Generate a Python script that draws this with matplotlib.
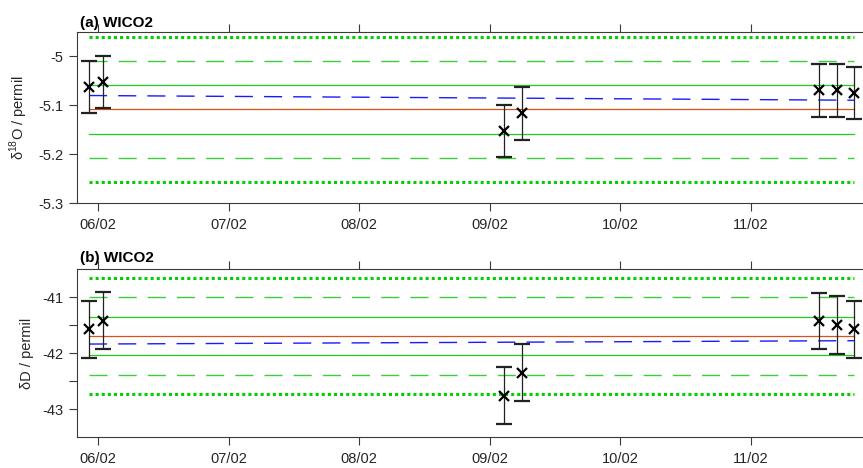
import numpy as np
import pandas as pd
import matplotlib
matplotlib.use("Agg")
import matplotlib.pyplot as plt
import matplotlib.dates as mdates

plt.rcParams['font.family'] = ['Liberation Sans', 'DejaVu Sans']
plt.rcParams['axes.unicode_minus'] = False

# sample times
times = pd.to_datetime(["2020-02-05 22:18", "2020-02-06 00:52", "2020-02-09 02:41",
                        "2020-02-09 05:54", "2020-02-11 12:32", "2020-02-11 15:46",
                        "2020-02-11 18:58"])

# d18O
d18o = [-5.063, -5.052, -5.153, -5.116, -5.069, -5.069, -5.075]
d18o_err = [0.053, 0.053, 0.053, 0.054, 0.054, 0.054, 0.054]
d18o_mean = -5.108
d18o_sd = [-5.059, -5.158]      # +-1 sd
d18o_2sd = [-5.0096, -5.207]    # +-2 sd
d18o_3sd = [-4.96, -5.256]      # +-3 sd
d18o_trend = [-5.08, -5.0896]

# dD
dd = [-41.575, -41.42, -42.76, -42.35, -41.43, -41.50, -41.575]
dd_err = [0.51, 0.505, 0.51, 0.507, 0.504, 0.51, 0.51]
dd_mean = -41.694
dd_sd = [-41.35, -42.03]
dd_2sd = [-41.0, -42.39]
dd_3sd = [-40.66, -42.73]
dd_trend = [-41.84, -41.78]

xlim = (pd.Timestamp("2020-02-05 20:05"), pd.Timestamp("2020-02-11 20:38"))

fig = plt.figure(figsize=(8.63, 4.68), dpi=100)
ax1 = fig.add_axes([0.0892, 0.5662, 0.9108, 0.3654])
ax2 = fig.add_axes([0.0892, 0.0662, 0.9108, 0.3590])

green = '#1fcf1f'
ends = [times[0], times[-1]]


def panel(ax, vals, errs, mean, sd, sd2, sd3, trend, ylab, title, ty):
    for v in sd3:
        ax.plot(ends, [v, v], color='#00d000', lw=2.2, ls=(0, (1, 1)))
    for v in sd2:
        ax.plot(ends, [v, v], color='#3ccc3c', lw=1.0, ls=(0, (13, 8)))
    for v in sd:
        ax.plot(ends, [v, v], color=green, lw=0.9)
    ax.plot(ends, [mean, mean], color='#d95319', lw=0.9)
    ax.plot(ends, trend, color='#1a1aff', lw=1.0, ls=(0, (13, 8)))
    ax.errorbar(times, vals, yerr=errs, fmt='x', color='k', ms=6.5, mew=1.6,
                ecolor='#222222', elinewidth=0.9, capsize=5.5, capthick=1.2)
    ax.set_xlim(xlim)
    ax.xaxis.set_major_locator(mdates.DayLocator())
    ax.xaxis.set_major_formatter(mdates.DateFormatter('%d/%m'))
    ax.spines['right'].set_visible(False)
    for s in ['left', 'top', 'bottom']:
        ax.spines[s].set_color('#3a3a3a')
        ax.spines[s].set_linewidth(0.8)
    ax.tick_params(direction='out', length=6, width=0.8, colors='#3a3a3a',
                   labelcolor='#262626', labelsize=10.5, top=True)
    ax.tick_params(axis='x', pad=5)
    ax.set_ylabel(ylab, fontsize=10.5, color='#262626', labelpad=6)
    fig.text(80 / 863, ty, title, fontsize=11, fontweight='bold', va='baseline')


panel(ax1, d18o, d18o_err, d18o_mean, d18o_sd, d18o_2sd, d18o_3sd, d18o_trend,
      'δ$^{\\mathregular{18}}$O / permil', '(a) WICO2', 1 - 27 / 468)
ax1.set_ylim(-5.3, -4.95)
ax1.set_yticks([-5.0, -5.1, -5.2, -5.3])
ax1.set_yticklabels(['-5', '-5.1', '-5.2', '-5.3'])

panel(ax2, dd, dd_err, dd_mean, dd_sd, dd_2sd, dd_3sd, dd_trend,
      'δD / permil', '(b) WICO2', 1 - 262 / 468)
ax2.set_ylim(-43.5, -40.5)
ax2.set_yticks([-41, -41.5, -42, -42.5, -43])
ax2.set_yticklabels(['-41', '', '-42', '', '-43'])

fig.savefig('out.png', dpi=100)
